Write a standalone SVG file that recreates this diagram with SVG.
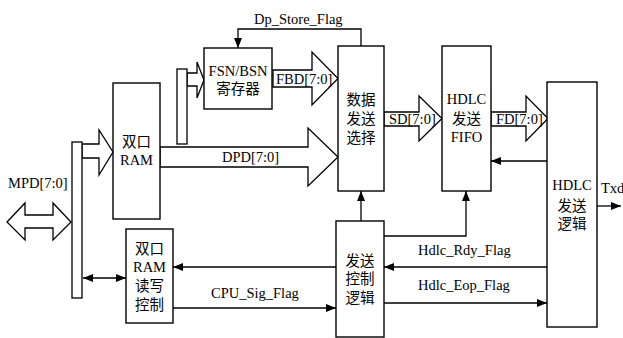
<svg xmlns="http://www.w3.org/2000/svg" width="623" height="338" viewBox="0 0 623 338">
<style>
.box{fill:#fff;stroke:#000;stroke-width:1.4}
.bus{fill:#fff;stroke:#000;stroke-width:1.3;stroke-linejoin:miter}
.ln{fill:none;stroke:#000;stroke-width:1.3}
.t{font-family:"Liberation Serif","Times New Roman",serif;font-size:14.5px;fill:#000}
.c{font-family:"Liberation Serif","Noto Sans CJK SC",serif;font-size:14.5px;fill:#000;text-anchor:middle}
</style>
<defs>
<marker id="ah" viewBox="0 0 10 8" refX="10" refY="4" markerWidth="10" markerHeight="8" markerUnits="userSpaceOnUse" orient="auto-start-reverse">
<path d="M0,0 L10,4 L0,8 Z" fill="#000"/>
</marker>
</defs>
<rect width="623" height="338" fill="#fff"/>

<g id="connectors">
<!-- bus arrows -->
<polygon class="bus" points="7,222 25,203 25,215 53,215 53,203 71,222 53,240 53,228 25,228 25,240"/>
<polygon class="bus" points="82,144 99,144 99,130 113,152 99,175 99,158 82,158"/>
<polygon class="bus" points="187,73 197,73 197,62 204,80 197,98 197,86 187,86"/>
<polygon class="bus" points="160,147 308,147 308,128 338,157 308,186 308,167 160,167"/>
<polygon class="bus" points="273,70 312,70 312,52 338,78.5 312,105 312,87 273,87"/>
<polygon class="bus" points="384,112 419,112 419,96 442,118.5 419,141 419,126 384,126"/>
<polygon class="bus" points="491,112 526,112 526,96 548,118.5 526,141 526,126 491,126"/>
<!-- bus bars -->
<rect class="bus" x="72" y="142" width="10" height="156"/>
<rect class="bus" x="177" y="69" width="10" height="75"/>
<!-- signal lines -->
<path class="ln" d="M361,46 V29 H238 V48" marker-end="url(#ah)"/>
<line class="ln" x1="83" y1="278" x2="126" y2="278" marker-start="url(#ah)" marker-end="url(#ah)"/>
<line class="ln" x1="336" y1="267" x2="173" y2="267" marker-end="url(#ah)"/>
<line class="ln" x1="173" y1="308" x2="336" y2="308" marker-end="url(#ah)"/>
<line class="ln" x1="361" y1="221" x2="361" y2="191" marker-end="url(#ah)"/>
<path class="ln" d="M384,236 H466 V191" marker-end="url(#ah)"/>
<line class="ln" x1="547" y1="267" x2="384" y2="267" marker-end="url(#ah)"/>
<line class="ln" x1="384" y1="303" x2="547" y2="303" marker-end="url(#ah)"/>
<line class="ln" x1="547" y1="161" x2="491" y2="161" marker-end="url(#ah)"/>
<line class="ln" x1="597" y1="206" x2="621" y2="206" marker-end="url(#ah)"/>
<!-- labels -->
<text class="t" x="254" y="24">Dp_Store_Flag</text>
<text class="t" x="8" y="188">MPD[7:0]</text>
<text class="t" x="276" y="83.5">FBD[7:0]</text>
<text class="t" x="222" y="162">DPD[7:0]</text>
<text class="t" x="389" y="123.5">SD[7:0]</text>
<text class="t" x="496" y="123.5">FD[7:0]</text>
<text class="t" x="211" y="298">CPU_Sig_Flag</text>
<text class="t" x="418" y="255">Hdlc_Rdy_Flag</text>
<text class="t" x="418" y="290">Hdlc_Eop_Flag</text>
<text class="t" x="601" y="193">Txd</text>
</g>

<g id="dpram">
<rect class="box" x="113" y="83" width="47" height="136"/>
<text class="c" x="136.5" y="147">双口</text>
<text class="c" x="136.5" y="165">RAM</text>
</g>

<g id="fsnbsn">
<rect class="box" x="204" y="48" width="68" height="61"/>
<text class="c" x="238" y="76">FSN/BSN</text>
<text class="c" x="238" y="93.5">寄存器</text>
</g>

<g id="dpram-ctrl">
<rect class="box" x="126" y="229" width="47" height="94"/>
<text class="c" x="149.5" y="253.5">双口</text>
<text class="c" x="149.5" y="272">RAM</text>
<text class="c" x="149.5" y="291">读写</text>
<text class="c" x="149.5" y="309.5">控制</text>
</g>

<g id="data-select">
<rect class="box" x="338" y="46" width="46" height="145"/>
<text class="c" x="361" y="104.5">数据</text>
<text class="c" x="361" y="123.5">发送</text>
<text class="c" x="361" y="142.5">选择</text>
</g>

<g id="tx-ctrl">
<rect class="box" x="336" y="221" width="48" height="116"/>
<text class="c" x="360" y="265.5">发送</text>
<text class="c" x="360" y="283.5">控制</text>
<text class="c" x="360" y="302.5">逻辑</text>
</g>

<g id="hdlc-fifo">
<rect class="box" x="442" y="46" width="49" height="145"/>
<text class="c" x="466.5" y="104">HDLC</text>
<text class="c" x="466.5" y="123.5">发送</text>
<text class="c" x="466.5" y="142">FIFO</text>
</g>

<g id="hdlc-logic">
<rect class="box" x="547" y="82" width="50" height="245"/>
<text class="c" x="572" y="190">HDLC</text>
<text class="c" x="572" y="210.5">发送</text>
<text class="c" x="572" y="228.5">逻辑</text>
</g>
</svg>
